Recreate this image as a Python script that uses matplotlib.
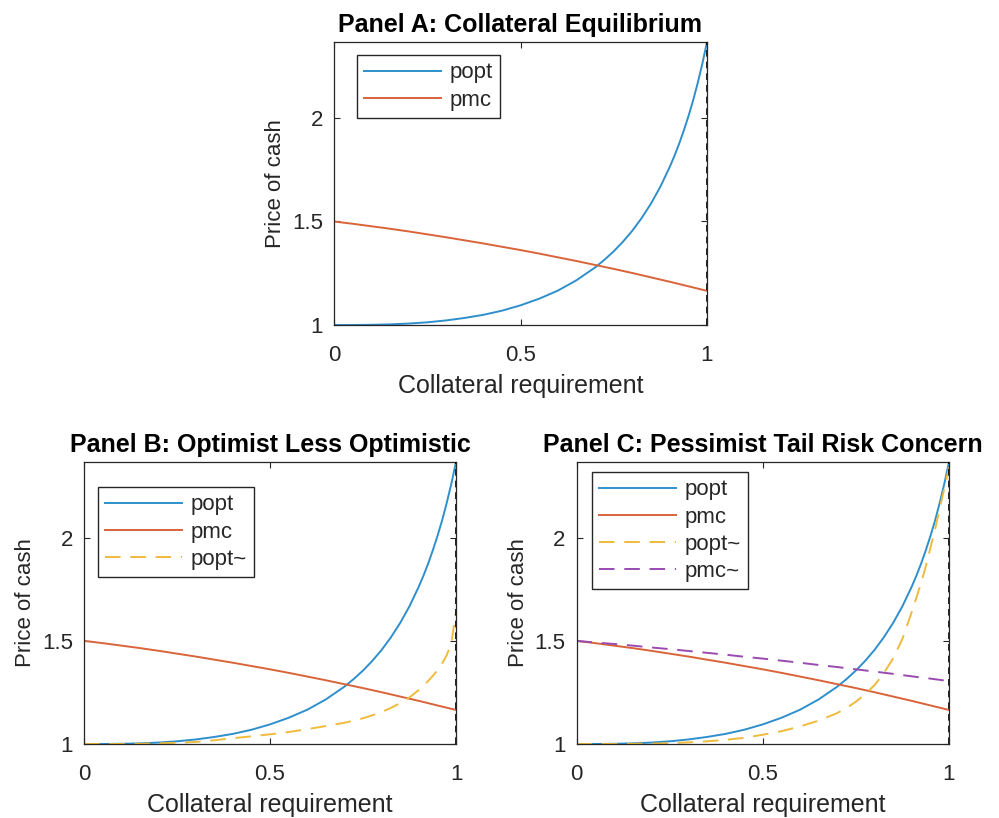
import numpy as np
import matplotlib
matplotlib.use("Agg")
import matplotlib.pyplot as plt

plt.rcParams['font.family'] = ['Liberation Sans', 'DejaVu Sans']

# ---- data ----
x_fine = [0.0, 0.05, 0.1, 0.15, 0.2, 0.25, 0.3, 0.35, 0.4, 0.45, 0.5, 0.55,
          0.6, 0.65, 0.7, 0.725, 0.75, 0.775, 0.8, 0.825, 0.85, 0.875, 0.9,
          0.9125, 0.925, 0.9375, 0.95, 0.9625, 0.975, 0.9875, 1.0]
popt = [1.000, 1.000, 1.001, 1.003, 1.007, 1.013, 1.022, 1.034, 1.049, 1.069,
        1.095, 1.127, 1.166, 1.216, 1.278, 1.315, 1.356, 1.403, 1.456, 1.517,
        1.587, 1.668, 1.763, 1.816, 1.874, 1.938, 2.007, 2.083, 2.168, 2.262,
        2.367]

x_coarse = [0.0, 0.05, 0.1, 0.15, 0.2, 0.25, 0.3, 0.35, 0.4, 0.45, 0.5, 0.55,
            0.6, 0.65, 0.7, 0.75, 0.8, 0.85, 0.9, 0.95, 1.0]
pmc = [1.500, 1.489, 1.477, 1.465, 1.452, 1.438, 1.424, 1.409, 1.394, 1.378,
       1.362, 1.345, 1.327, 1.309, 1.290, 1.271, 1.251, 1.230, 1.209, 1.187,
       1.165]

# Panel B: optimist less optimistic
popt_tilde_B = [1.000, 1.000, 1.000, 1.001, 1.003, 1.006, 1.010, 1.018, 1.028,
                1.037, 1.047, 1.058, 1.072, 1.087, 1.103, 1.113, 1.125, 1.139,
                1.155, 1.175, 1.198, 1.226, 1.262, 1.282, 1.305, 1.330, 1.357,
                1.390, 1.430, 1.490, 1.640]

# Panel C: pessimist tail risk concern
popt_tilde_C = [1.000, 1.000, 1.000, 1.001, 1.002, 1.004, 1.008, 1.013, 1.020,
                1.030, 1.045, 1.062, 1.085, 1.113, 1.150, 1.175, 1.205, 1.242,
                1.285, 1.343, 1.415, 1.510, 1.640, 1.710, 1.780, 1.860, 1.950,
                2.040, 2.140, 2.240, 2.340]
pmc_tilde_C = [1.500, 1.492, 1.485, 1.477, 1.468, 1.460, 1.451, 1.442, 1.433,
               1.423, 1.414, 1.404, 1.394, 1.383, 1.373, 1.362, 1.351, 1.340,
               1.328, 1.317, 1.305]

titles = ["Panel A: Collateral Equilibrium",
          "Panel B: Optimist Less Optimistic",
          "Panel C: Pessimist Tail Risk Concern"]
xlabel = "Collateral requirement"
ylabel = "Price of cash"
xticks = [0, 0.5, 1]
xticklabels = ["0", "0.5", "1"]
yticks = [1, 1.5, 2]
yticklabels = ["1", "1.5", "2"]

C_BLUE = '#2f8fcc'
C_ORANGE = '#d9643a'
C_YELLOW = '#efbb3c'
C_PURPLE = '#9a4bb0'
AX_COL = '#262626'

W, H = 999, 818
fig = plt.figure(figsize=(W / 100, H / 100), dpi=100)

def px_axes(l, t, r, b):
    return fig.add_axes([l / W, 1 - b / H, (r - l) / W, (b - t) / H])

axA = px_axes(334, 42, 707, 325)
axB = px_axes(84, 462, 456, 744)
axC = px_axes(576.5, 462, 949, 744)

def style(ax, title):
    ax.set_xlim(0, 1)
    ax.set_ylim(1, max(popt))
    ax.set_xticks(xticks)
    ax.set_xticklabels(xticklabels)
    ax.set_yticks(yticks)
    ax.set_yticklabels(yticklabels)
    ax.tick_params(direction='in', length=4, width=0.8, colors=AX_COL,
                   labelsize=16, top=True, right=True)
    ax.tick_params(axis='x', pad=14.5)
    ax.tick_params(axis='y', pad=8)
    for s in ax.spines.values():
        s.set_color(AX_COL)
        s.set_linewidth(0.9)
    ax.set_xlabel(xlabel, fontsize=18, color=AX_COL, labelpad=6)
    ax.set_ylabel(ylabel, fontsize=16, color=AX_COL, labelpad=4)
    ax.set_title(title, fontsize=18, fontweight='bold', pad=7)
    ax.axvline(1.0, color='black', lw=1.2, ls=(0, (4, 3)), zorder=5)

DASH = (0, (8, 5))
LW = 1.4

axA.plot(x_fine, popt, color=C_BLUE, lw=LW, label='popt')
axA.plot(x_coarse, pmc, color=C_ORANGE, lw=LW, label='pmc')
style(axA, titles[0])

axB.plot(x_fine, popt, color=C_BLUE, lw=LW, label='popt')
axB.plot(x_coarse, pmc, color=C_ORANGE, lw=LW, label='pmc')
axB.plot(x_fine, popt_tilde_B, color=C_YELLOW, lw=LW, ls=DASH, label='popt~')
style(axB, titles[1])

axC.plot(x_fine, popt, color=C_BLUE, lw=LW, label='popt')
axC.plot(x_coarse, pmc, color=C_ORANGE, lw=LW, label='pmc')
axC.plot(x_fine, popt_tilde_C, color=C_YELLOW, lw=LW, ls=DASH, label='popt~')
axC.plot(x_coarse, pmc_tilde_C, color=C_PURPLE, lw=LW, ls=DASH, label='pmc~')
style(axC, titles[2])

def leg(ax, left_px, top_px, ax_l, ax_t, ax_w, ax_h):
    xa = (left_px - ax_l) / ax_w
    ya = 1 - (top_px - ax_t) / ax_h
    lg = ax.legend(loc='upper left', bbox_to_anchor=(xa, ya), fontsize=16,
                   frameon=True, fancybox=False, framealpha=1,
                   edgecolor=AX_COL, handlelength=3.47, handletextpad=0.36,
                   labelspacing=0.28, borderpad=0.33, borderaxespad=0)
    lg.get_frame().set_linewidth(1.0)
    for t in lg.get_texts():
        t.set_color(AX_COL)

leg(axA, 357, 55, 334, 42, 373, 283)
leg(axB, 98, 487, 84, 462, 372, 282)
leg(axC, 592, 472, 576.5, 462, 372.5, 282)

fig.savefig('out.png', dpi=100)
